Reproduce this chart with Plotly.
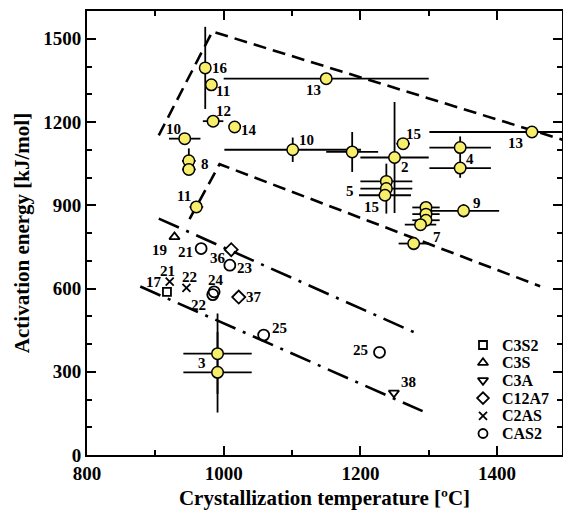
import plotly.graph_objects as go

# ---------------- data ----------------
# Glass-ceramic points (yellow filled circles) with error bars
yel_x    = [973, 982, 1150, 984.5, 1016, 943, 949, 949, 1101, 1188, 1250, 1262.5, 1346, 1346, 1451,
            1238, 1238, 1236, 1296, 1296, 1296, 1288, 1351, 1278, 960, 991, 991]
yel_y    = [1395, 1334, 1356, 1203, 1182, 1140, 1060, 1029, 1100, 1092, 1072, 1122, 1108, 1034, 1164,
            986, 960, 936, 892, 868, 846, 830, 880, 762, 894, 365, 298]
yel_xerr = [0, 0, 150, 15, 0, 23, 10, 10, 100, 38, 50, 10, 45, 45, 150,
            38, 38, 38, 20, 20, 20, 23, 52, 22, 10, 50, 50]
yel_yerr = [148, 0, 0, 18, 0, 18, 45, 20, 44, 72, 200, 15, 40, 35, 0,
            0, 90, 0, 0, 0, 0, 0, 24, 24, 20, 145, 145]
yel_lab  = ["16", "11", "13", "12", "14", "10", "8", "", "10", "", "2", "15", "4", "", "13",
            "", "5", "15", "", "", "", "", "9", "7", "11", "3", ""]

# Crystalline phases (open markers)
phase_names = ["C3S2", "C3S", "C3A", "C12A7", "C2AS", "CAS2"]
phase_x = {
    "C3S2": [917],
    "C3S": [928],
    "C3A": [1249],
    "C12A7": [1011, 1022],
    "C2AS": [921, 945.5],
    "CAS2": [967, 1009, 986, 984, 1058.5, 1228],
}
phase_y = {
    "C3S2": [588],
    "C3S": [786],
    "C3A": [224],
    "C12A7": [740, 569],
    "C2AS": [625, 602],
    "CAS2": [744, 684, 588, 578, 432, 370],
}
phase_lab = {
    "C3S2": ["17"],
    "C3S": ["19"],
    "C3A": ["38"],
    "C12A7": ["36", "37"],
    "C2AS": ["21", "22"],
    "CAS2": ["21", "23", "24", "22", "25", "25"],
}

# Guide lines (envelopes)
env_up_x, env_up_y = [905, 983.5, 1496], [1152, 1526, 1136]
env_lo_x, env_lo_y = [950, 994, 1463], [850, 1048, 608]
dd_up_x, dd_up_y = [905, 1288], [852, 432]
dd_lo_x, dd_lo_y = [878, 1291], [607, 158]

# ---------------- styles / positions ----------------
FONT = "Liberation Serif, Times New Roman, serif"
YELLOW = "#F7EF6C"
yel_shift = [(15, 0), (12, -6), (-13, -11), (10, 10), (14, -3), (-11, 10), (16, -3), (0, 0),
             (14, 10), (0, 0), (10, -9), (10, 10), (10, -11), (0, 0), (-16, -11),
             (0, 0), (-36, -2), (-13, -12), (0, 0), (0, 0), (0, 0), (0, 0), (13, 8), (23, 7),
             (-12, 11), (-16, -9), (0, 0)]
phase_shift = {
    "C3S2": [(-13, 10)],
    "C3S": [(-15, -13)],
    "C3A": [(15, 11)],
    "C12A7": [(-13, -8), (15, 0)],
    "C2AS": [(-2, 11), (3, 11)],
    "CAS2": [(-16, -3), (15, -3), (2, 12), (-14, -10), (16, 7), (-19, 2)],
}
phase_symbol = {
    "C3S2": ("square-open", 8),
    "C3S": ("triangle-up-open", 9),
    "C3A": ("triangle-down-open", 9),
    "C12A7": ("diamond-open", 10),
    "C2AS": ("x-thin-open", 8),
    "CAS2": ("circle-open", 11),
}

W, H = 563, 512
ML, MR, MT, MB = 87, 1, 11, 57
PW, PH = W - ML - MR, H - MT - MB

fig = go.Figure()

dash_style = dict(color="black", width=2.6, dash="13px,7px")
dd_style = dict(color="black", width=2.6, dash="22px,8px,3px,8px")
for xs, ys, st in [(env_up_x, env_up_y, dash_style), (env_lo_x, env_lo_y, dash_style),
                   (dd_up_x, dd_up_y, dd_style), (dd_lo_x, dd_lo_y, dd_style)]:
    fig.add_trace(go.Scatter(x=xs, y=ys, mode="lines", line=st,
                             hoverinfo="skip", showlegend=False))

fig.add_trace(go.Scatter(
    x=yel_x, y=yel_y, mode="markers", showlegend=False,
    error_x=dict(type="data", array=yel_xerr, color="black", thickness=1.8, width=0),
    error_y=dict(type="data", array=yel_yerr, color="black", thickness=1.8, width=0),
    marker=dict(size=11.5, color=YELLOW, line=dict(color="black", width=1.5)),
))

for name in phase_names:
    sym, sz = phase_symbol[name]
    fig.add_trace(go.Scatter(
        x=phase_x[name], y=phase_y[name], mode="markers", name=name, showlegend=False,
        marker=dict(symbol=sym, size=sz, color="black", line=dict(color="black", width=1.8)),
    ))

LBL_FONT = dict(family=FONT, size=15, color="black", weight="bold")
annotations = []
for x, y, t, (dx, dy) in zip(yel_x, yel_y, yel_lab, yel_shift):
    if t:
        annotations.append(dict(x=x, y=y, text=t, showarrow=False, xshift=dx, yshift=dy,
                                font=LBL_FONT))
for name in phase_names:
    for x, y, t, (dx, dy) in zip(phase_x[name], phase_y[name], phase_lab[name], phase_shift[name]):
        annotations.append(dict(x=x, y=y, text=t, showarrow=False, xshift=dx, yshift=dy,
                                font=LBL_FONT))

# manual legend (keys on an overlay 0..1 axis, text as paper annotations)
LEG_KEY_PX, LEG_TXT_PX, LEG_TOP_PX, LEG_ROW = 483, 500, 345, 17.7
for i, name in enumerate(phase_names):
    sym, sz = phase_symbol[name]
    fy = (MT + PH - (LEG_TOP_PX + i * LEG_ROW)) / PH
    fx = (LEG_KEY_PX - ML) / PW
    fig.add_trace(go.Scatter(
        x=[fx], y=[fy], xaxis="x2", yaxis="y2", mode="markers", showlegend=False,
        hoverinfo="skip",
        marker=dict(symbol=sym, size=min(sz, 9), color="black", line=dict(color="black", width=1.8)),
    ))
    annotations.append(dict(xref="paper", yref="paper", x=(LEG_TXT_PX - ML) / PW, y=fy,
                            text=name, showarrow=False, xanchor="left", yanchor="middle",
                            font=dict(family=FONT, size=16, color="black", weight="bold")))

TICK_FONT = dict(family=FONT, size=19, color="black", weight="bold")
TITLE_FONT = dict(family=FONT, size=21, color="black", weight="bold")
axis_common = dict(showline=True, linecolor="black", linewidth=2, mirror="ticks",
                   ticks="inside", ticklen=9, tickwidth=1.5, tickcolor="black",
                   showgrid=False, zeroline=False, tickfont=TICK_FONT, automargin=False)

fig.update_layout(
    width=W, height=H,
    margin=dict(l=ML, r=MR, t=MT, b=MB),
    paper_bgcolor="white", plot_bgcolor="white",
    showlegend=False,
    font=dict(family=FONT, color="black"),
    xaxis=dict(range=[800, 1495], tick0=800, dtick=200,
               minor=dict(dtick=100, ticks="inside", ticklen=5, tickwidth=1.5, tickcolor="black"),
               title=dict(text="Crystallization temperature [ºC]", font=TITLE_FONT, standoff=8),
               **axis_common),
    yaxis=dict(range=[0, 1600], tick0=0, dtick=300,
               minor=dict(dtick=100, ticks="inside", ticklen=5, tickwidth=1.5, tickcolor="black"),
               title=dict(text="Activation energy [kJ/mol]", font=TITLE_FONT, standoff=8),
               **axis_common),
    xaxis2=dict(overlaying="x", range=[0, 1], visible=False, fixedrange=True),
    yaxis2=dict(overlaying="y", range=[0, 1], visible=False, fixedrange=True),
    annotations=annotations,
)

fig.write_html("out.html",
               config={"displayModeBar": False},
               post_script="document.body.style.margin='0px';document.body.style.overflow='hidden';")
